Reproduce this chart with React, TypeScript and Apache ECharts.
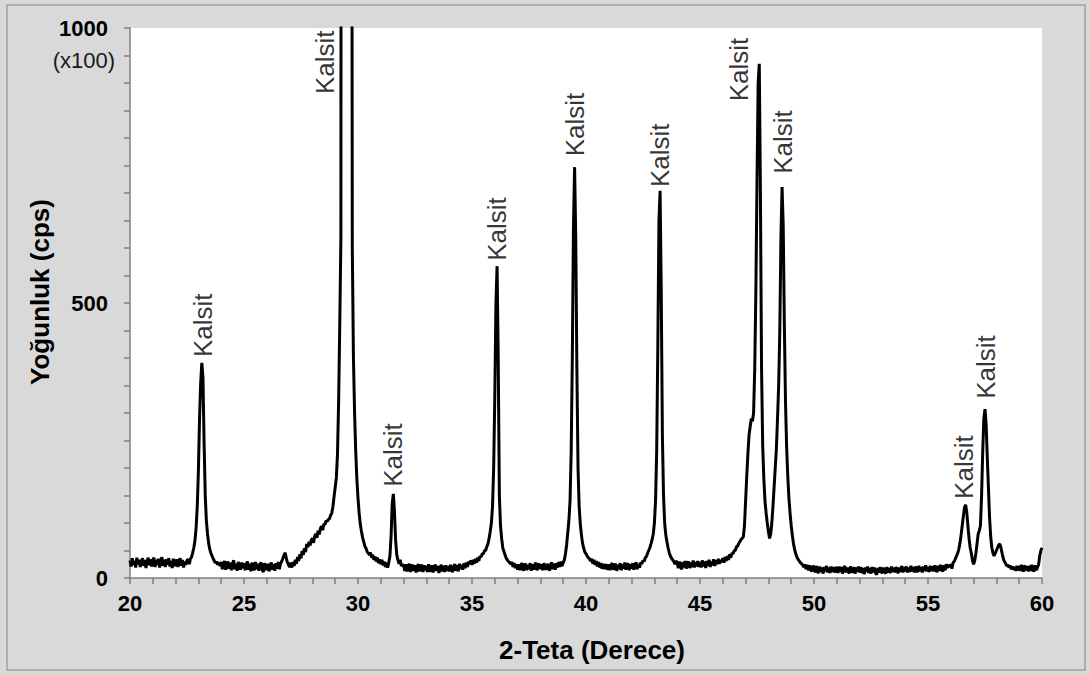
import React, { useEffect, useRef } from "react";
import * as echarts from "echarts";

// Step scan: 2θ from 20° to 60°, step 0.05° (20 values per degree row)
const START_2THETA = 20;
const STEP_2THETA = 0.05;

// Intensity (cps /100), one row per degree
const intensity: number[] = [
  // 20
  32, 21, 36, 24, 31, 19, 37, 25, 33, 20, 30, 36, 22, 33, 18, 31, 37, 23, 34, 21,
  // 21
  32, 37, 20, 33, 24, 35, 19, 30, 38, 22, 33, 20, 34, 24, 36, 21, 31, 18, 35, 24,
  // 22
  23, 34, 20, 31, 36, 22, 33, 19, 30, 24, 32, 34, 25, 35, 38, 46, 55, 68, 92, 130,
  // 23
  195, 290, 355, 391, 365, 245, 150, 104, 80, 63, 52, 45, 40, 35, 31, 27, 30, 24, 28, 22,
  // 24
  29, 16, 26, 31, 15, 25, 30, 17, 28, 14, 27, 32, 16, 26, 13, 29, 24, 15, 28, 18,
  // 25
  27, 14, 25, 30, 15, 26, 12, 28, 18, 14, 29, 16, 26, 13, 25, 28, 15, 11, 27, 17,
  // 26
  15, 26, 12, 24, 28, 15, 25, 13, 27, 17, 29, 16, 26, 30, 35, 41, 46, 37, 29, 24,
  // 27
  20, 28, 19, 29, 22, 33, 26, 38, 31, 43, 36, 49, 42, 54, 47, 62, 56, 66, 59, 69,
  // 28
  72, 64, 76, 80, 73, 86, 79, 90, 94, 87, 98, 97, 104, 103, 106, 108, 114, 118, 130, 148,
  // 29
  165, 182, 225, 320, 460, 620, 5200, 9000, 11000, 11500, 10500, 8000, 5500, 3800, 2400, 600, 400, 300, 230, 180,
  // 30
  145, 118, 98, 85, 74, 66, 58, 54, 48, 45, 42, 46, 37, 42, 33, 39, 30, 37, 27, 34,
  // 31
  25, 33, 23, 30, 20, 28, 19, 28, 40, 75, 135, 153, 120, 68, 42, 33, 26, 33, 22, 24,
  // 32
  23, 13, 25, 12, 21, 26, 11, 20, 24, 13, 23, 10, 21, 25, 12, 20, 24, 11, 23, 14,
  // 33
  22, 11, 25, 14, 12, 23, 10, 20, 24, 13, 22, 9, 19, 24, 12, 22, 11, 23, 13, 21,
  // 34
  12, 24, 14, 11, 22, 25, 13, 23, 12, 26, 16, 24, 15, 27, 18, 28, 20, 30, 25, 32,
  // 35
  24, 33, 26, 35, 28, 37, 31, 40, 38, 44, 44, 50, 50, 57, 62, 72, 85, 100, 130, 200,
  // 36
  330, 500, 567, 400, 150, 95, 72, 55, 48, 42, 36, 33, 30, 28, 25, 29, 20, 27, 18, 25,
  // 37
  15, 25, 14, 24, 27, 13, 23, 26, 14, 24, 16, 27, 13, 25, 15, 24, 28, 14, 23, 26,
  // 38
  16, 25, 14, 27, 18, 15, 26, 19, 13, 25, 28, 16, 26, 15, 27, 19, 29, 20, 30, 22,
  // 39
  28, 33, 44, 60, 82, 105, 140, 230, 400, 640, 747, 620, 380, 200, 130, 98, 78, 63, 54, 47,
  // 40
  44, 40, 37, 35, 31, 35, 26, 33, 24, 31, 21, 29, 19, 27, 17, 26, 16, 25, 22, 15,
  // 41
  25, 14, 24, 27, 15, 22, 26, 13, 24, 16, 27, 14, 25, 17, 28, 15, 24, 26, 14, 25,
  // 42
  17, 27, 15, 25, 28, 16, 26, 19, 28, 26, 32, 30, 37, 39, 45, 50, 55, 62, 70, 80,
  // 43
  100, 140, 230, 420, 650, 704, 520, 260, 150, 100, 78, 66, 55, 46, 40, 36, 33, 30, 25, 31,
  // 44
  28, 18, 30, 20, 16, 29, 19, 31, 17, 27, 30, 18, 28, 20, 32, 19, 29, 21, 31, 20,
  // 45
  29, 19, 32, 21, 30, 18, 31, 22, 33, 20, 30, 23, 34, 22, 32, 25, 35, 26, 33, 29,
  // 46
  36, 28, 38, 31, 40, 33, 43, 37, 45, 44, 50, 50, 57, 58, 63, 66, 70, 72, 75, 95,
  // 47
  140, 185, 225, 260, 275, 290, 285, 300, 380, 520, 720, 900, 935, 700, 380, 240, 180, 140, 118, 100,
  // 48
  85, 72, 80, 100, 130, 165, 200, 235, 290, 350, 450, 620, 711, 640, 460, 320, 238, 185, 145, 118,
  // 49
  95, 78, 62, 52, 44, 38, 34, 31, 28, 26, 24, 20, 25, 16, 24, 14, 23, 15, 12, 22,
  // 50
  20, 10, 22, 12, 9, 21, 11, 19, 8, 20, 12, 22, 10, 19, 9, 21, 11, 20, 10, 18,
  // 51
  19, 9, 21, 11, 20, 8, 18, 22, 10, 19, 11, 9, 21, 12, 10, 20, 8, 19, 11, 21,
  // 52
  10, 20, 9, 18, 7, 19, 11, 21, 9, 18, 8, 20, 10, 19, 9, 6, 18, 10, 20, 11,
  // 53
  9, 19, 11, 8, 20, 10, 18, 9, 21, 11, 19, 10, 20, 12, 9, 19, 11, 22, 10, 20,
  // 54
  12, 21, 10, 19, 11, 22, 12, 20, 10, 21, 13, 11, 22, 12, 20, 10, 21, 13, 23, 12,
  // 55
  20, 11, 22, 13, 21, 12, 23, 14, 11, 22, 13, 24, 15, 12, 23, 14, 25, 18, 24, 20,
  // 56
  25, 17, 28, 30, 35, 40, 45, 52, 63, 78, 95, 112, 128, 133, 120, 95, 72, 55, 45, 32,
  // 57
  25, 32, 45, 62, 80, 86, 95, 150, 230, 290, 307, 280, 220, 165, 110, 75, 55, 45, 40, 45,
  // 58
  50, 55, 60, 62, 55, 45, 36, 30, 27, 22, 24, 19, 23, 16, 21, 15, 20, 13, 22, 14,
  // 59
  22, 13, 24, 15, 12, 23, 14, 21, 12, 22, 13, 24, 15, 12, 23, 14, 19, 24, 40, 50,
  // 60
  55,
];

// Peak annotations ("Kalsit") – anchor at the start (bottom) of each rotated label
const labelTheta: number[] = [23.2, 28.55, 31.55, 36.1, 39.52, 43.25, 46.71, 48.66, 56.56, 57.53];
const labelValue: number[] = [400, 878, 164, 575, 765, 709, 865, 733, 142, 324];
const labelText = "Kalsit";

const xTitle = "2-Teta (Derece)";
const yTitle = "Yoğunluk (cps)";
const yScaleNote = "(x100)";

const FONT = '"Liberation Sans", Arial, sans-serif';
const AXIS_GRAY = "#808080";

export default function App() {
  const ref = useRef<HTMLDivElement>(null);

  useEffect(() => {
    if (!ref.current) return;
    const chart = echarts.init(ref.current, undefined, { renderer: "svg" });

    const lineData = intensity.map((v, i) => [START_2THETA + i * STEP_2THETA, v]);
    const labelData = labelTheta.map((t, i) => [t, labelValue[i]]);

    chart.setOption({
      animation: false,
      backgroundColor: "#d9d9d9",
      grid: {
        left: 130,
        right: 48,
        top: 28,
        bottom: 97,
        show: true,
        backgroundColor: "#ffffff",
        borderWidth: 0,
        containLabel: false,
        outerBoundsMode: "none",
      },
      xAxis: {
        type: "value",
        min: 20,
        max: 60,
        interval: 5,
        axisLine: { show: true, onZero: false, lineStyle: { color: AXIS_GRAY, width: 1.5 } },
        axisTick: { show: true, length: 6, lineStyle: { color: AXIS_GRAY, width: 1.5 } },
        minorTick: { show: true, splitNumber: 5, length: 6, lineStyle: { color: AXIS_GRAY, width: 1.5 } },
        splitLine: { show: false },
        axisLabel: {
          color: "#000",
          fontFamily: FONT,
          fontSize: 22,
          fontWeight: "bold",
          margin: 14,
          formatter: (v: number) => String(v),
        },
      },
      yAxis: {
        type: "value",
        min: 0,
        max: 1000,
        interval: 500,
        axisLine: { show: true, lineStyle: { color: AXIS_GRAY, width: 1.5 } },
        axisTick: { show: true, length: 6, lineStyle: { color: AXIS_GRAY, width: 1.5 } },
        minorTick: { show: true, splitNumber: 10, length: 6, lineStyle: { color: AXIS_GRAY, width: 1.5 } },
        splitLine: { show: false },
        axisLabel: {
          color: "#000",
          fontFamily: FONT,
          fontSize: 22,
          fontWeight: "bold",
          margin: 22,
          formatter: (v: number) => String(v),
        },
      },
      graphic: [
        {
          type: "rect",
          z: -10,
          silent: true,
          shape: { x: 7, y: 5, width: 1078, height: 665 },
          style: { fill: "none", stroke: "#a0a0a0", lineWidth: 1.5 },
        },
        {
          type: "text",
          x: 592,
          y: 650,
          style: {
            text: xTitle,
            fontFamily: FONT,
            fontSize: 26,
            fontWeight: "bold",
            fill: "#000",
            align: "center",
            verticalAlign: "middle",
          },
        },
        {
          type: "text",
          x: 40,
          y: 292,
          rotation: Math.PI / 2,
          style: {
            text: yTitle,
            fontFamily: FONT,
            fontSize: 26,
            fontWeight: "bold",
            fill: "#000",
            align: "center",
            verticalAlign: "middle",
          },
        },
        {
          type: "text",
          x: 115,
          y: 60,
          style: {
            text: yScaleNote,
            fontFamily: FONT,
            fontSize: 22,
            fill: "#1a1a1a",
            align: "right",
            verticalAlign: "middle",
          },
        },
      ],
      series: [
        {
          type: "line",
          data: lineData,
          showSymbol: false,
          symbol: "none",
          clip: true,
          lineStyle: { color: "#000", width: 3 },
          z: 3,
        },
        {
          type: "scatter",
          data: labelData,
          symbolSize: 2,
          itemStyle: { color: "rgba(0,0,0,0)" },
          z: 4,
          label: {
            show: true,
            formatter: labelText,
            position: "top",
            distance: 0,
            rotate: 90,
            align: "left",
            verticalAlign: "middle",
            fontFamily: FONT,
            fontSize: 26,
            color: "#000",
          },
        },
      ],
    });

    return () => chart.dispose();
  }, []);

  return (
    <div
      ref={ref}
      style={{ position: "absolute", left: 0, top: 0, width: 1090, height: 675 }}
    />
  );
}
